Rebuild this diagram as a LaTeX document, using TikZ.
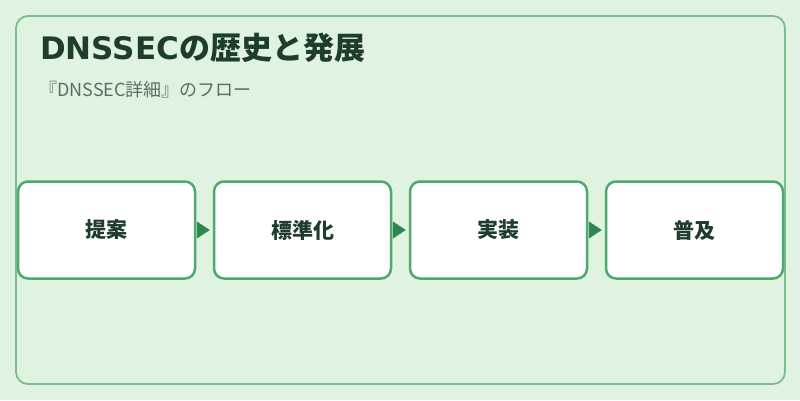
\documentclass[tikz,border=0pt]{standalone}
\usepackage{fontspec}
\setmainfont{Noto Sans CJK JP}
\newfontfamily\titlelatin{DejaVu Sans}
\usetikzlibrary{arrows.meta}
\definecolor{bg}{RGB}{224,242,224}
\definecolor{panelline}{RGB}{122,190,142}
\definecolor{boxline}{RGB}{76,170,110}
\definecolor{titlec}{RGB}{30,61,45}
\definecolor{subc}{RGB}{92,110,98}
\definecolor{arrowc}{RGB}{46,135,80}
\tikzset{
  stepbox/.style={draw=boxline, line width=2.5pt, fill=white, rounded corners=10pt,
    minimum width=177pt, minimum height=97pt, inner sep=0pt,
    font=\fontsize{21}{24}\selectfont\bfseries, text=titlec},
  flowarrow/.style={draw=arrowc, line width=0.5pt, shorten <=3pt, shorten >=2pt,
    -{Triangle[length=13pt,width=17pt]}},
}
\begin{document}
\begin{tikzpicture}[x=1pt,y=-1pt]
\useasboundingbox (0,0) rectangle (800,400);
\fill[bg] (0,0) rectangle (800,400);
\node[draw=panelline, line width=1.8pt, fill=bg, rounded corners=12pt, minimum width=769pt, minimum height=368pt, inner sep=0pt] (panel) at (400.5,200) {};
\node[anchor=base west, font=\fontsize{31}{34}\selectfont\bfseries, text=titlec, inner sep=0pt] (title) at (40,59) {{\titlelatin DNSSEC}の歴史と発展};
\node[anchor=base west, font=\fontsize{18}{22}\selectfont, text=subc, inner sep=0pt] (sub) at (39,96) {『DNSSEC詳細』のフロー};
\node[stepbox] (s1) at (106.5,230) {\raisebox{-2pt}{提案}};
\node[stepbox] (s2) at (302.5,230) {\raisebox{-2pt}{標準化}};
\node[stepbox] (s3) at (498.5,230) {\raisebox{-2pt}{実装}};
\node[stepbox] (s4) at (694.5,230) {\raisebox{-2pt}{普及}};
\draw[flowarrow] (s1.east) -- ([xshift=-1pt]s2.west);
\draw[flowarrow] (s2.east) -- ([xshift=-1pt]s3.west);
\draw[flowarrow] (s3.east) -- ([xshift=-1pt]s4.west);
\end{tikzpicture}
\end{document}
